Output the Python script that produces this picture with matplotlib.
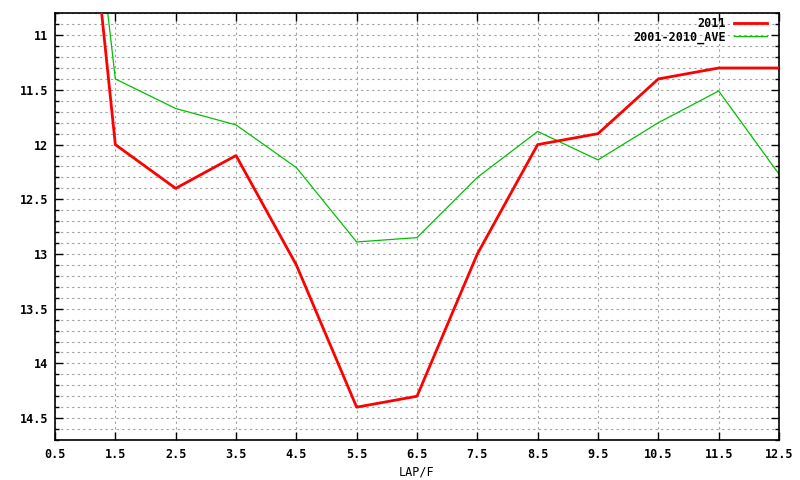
import numpy as np
import matplotlib
matplotlib.use('Agg')
import matplotlib.pyplot as plt
from matplotlib.ticker import MultipleLocator, FormatStrFormatter

laps = [0.5, 1.5, 2.5, 3.5, 4.5, 5.5, 6.5, 7.5, 8.5, 9.5, 10.5, 11.5, 12.5]
pos_2011 = [6.7, 12.0, 12.4, 12.1, 13.1, 14.4, 14.3, 13.0, 12.0, 11.9, 11.4, 11.3, 11.3]
pos_ave = [6.6, 11.4, 11.67, 11.82, 12.21, 12.89, 12.85, 12.3, 11.88, 12.14, 11.8, 11.51, 12.27]

xticks = [0.5, 1.5, 2.5, 3.5, 4.5, 5.5, 6.5, 7.5, 8.5, 9.5, 10.5, 11.5, 12.5]

plt.rcParams['font.family'] = 'DejaVu Sans Mono'
plt.rcParams['font.weight'] = 'bold'
plt.rcParams['font.size'] = 8.5

fig = plt.figure(figsize=(8, 4.8), dpi=100)
ax = fig.add_axes([55 / 800, 1 - 440 / 480, 724 / 800, (440 - 13.3) / 480])

ax.plot(laps, pos_2011, color='#ff0000', lw=2.0, label='2011', zorder=3)
ax.plot(laps, pos_ave, color='#00c000', lw=0.9, label='2001-2010_AVE', zorder=2)

ax.set_xlim(0.5, 12.5)
ax.set_ylim(14.7, 10.8)
ax.set_xticks(xticks)
ax.xaxis.set_major_formatter(FormatStrFormatter('%g'))
ax.yaxis.set_major_locator(MultipleLocator(0.5))
ax.yaxis.set_minor_locator(MultipleLocator(0.1))
ax.yaxis.set_major_formatter(FormatStrFormatter('%g'))

ax.grid(True, which='major', axis='x', color='#a0a0a0', ls=(0, (2, 3)), lw=0.8)
ax.grid(True, which='both', axis='y', color='#a0a0a0', ls=(0, (2, 3)), lw=0.8)

ax.tick_params(which='both', direction='in', top=True, right=True, width=1)
ax.tick_params(which='major', length=6)
ax.tick_params(axis='x', which='major', pad=6)
ax.tick_params(axis='y', which='major', pad=5)
ax.tick_params(axis='y', which='minor', length=3)
ax.tick_params(axis='x', which='minor', length=0)
for s in ax.spines.values():
    s.set_linewidth(1.2)

ax.set_xlabel('LAP/F', labelpad=3)

leg = ax.legend(loc='upper right', bbox_to_anchor=(0.984, 0.992),
                frameon=False, markerfirst=False, borderaxespad=0,
                borderpad=0, handlelength=2.8, labelspacing=0.05,
                handletextpad=0.7)
for t in leg.get_texts():
    t.set_ha('right')

fig.savefig('out.png', dpi=100)
